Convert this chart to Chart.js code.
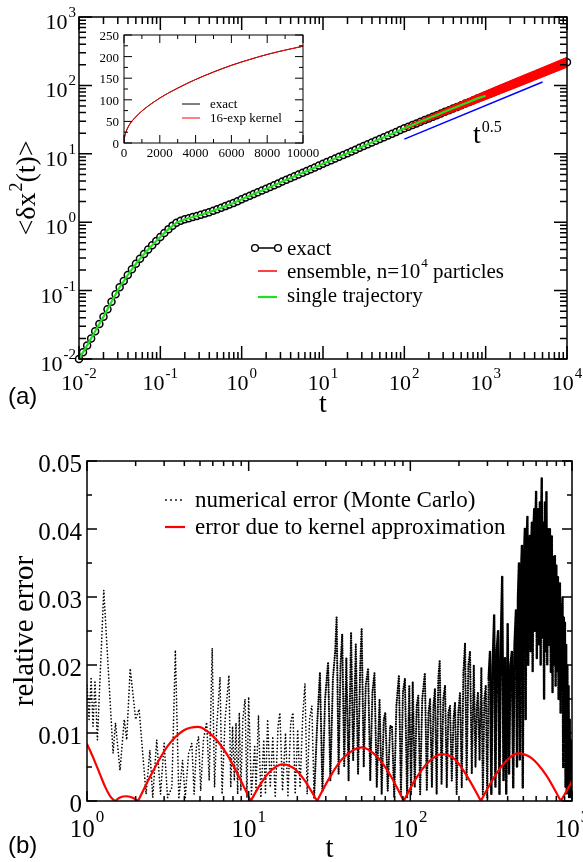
<!DOCTYPE html>
<html>
<head>
<meta charset="utf-8">
<script src="https://cdn.jsdelivr.net/npm/chart.js@4.4.1/dist/chart.umd.min.js"></script>
<style>
  body { margin: 0; background: #fff; }
  #wrap { position: relative; width: 583px; height: 862px; }
  canvas { position: absolute; }
</style>
</head>
<body>
<div id="wrap">
  <canvas id="msdChart" width="583" height="430" style="left:0;top:0"></canvas>
  <canvas id="insetChart" width="240" height="150" style="left:90px;top:20px"></canvas>
  <canvas id="errChart" width="583" height="432" style="left:0;top:430px"></canvas>
</div>
<script>
// ---- panel (a): mean squared displacement ----
const tGrid = [0.01, 0.0112, 0.0126, 0.0141, 0.0158, 0.0178, 0.02, 0.0224, 0.0251, 0.0282, 0.0316, 0.0355, 0.0398, 0.0447, 0.0501, 0.0562, 0.0631, 0.0708, 0.0794, 0.0891,
  0.1, 0.112, 0.126, 0.141, 0.158, 0.178, 0.2, 0.224, 0.251, 0.282, 0.316, 0.355, 0.398, 0.447, 0.501, 0.562, 0.631, 0.708, 0.794, 0.891,
  1, 1.12, 1.26, 1.41, 1.58, 1.78, 2, 2.24, 2.51, 2.82, 3.16, 3.55, 3.98, 4.47, 5.01, 5.62, 6.31, 7.08, 7.94, 8.91,
  10, 11.2, 12.6, 14.1, 15.8, 17.8, 20, 22.4, 25.1, 28.2, 31.6, 35.5, 39.8, 44.7, 50.1, 56.2, 63.1, 70.8, 79.4, 89.1,
  100, 112, 126, 141, 158, 178, 200, 224, 251, 282, 316, 355, 398, 447, 501, 562, 631, 708, 794, 891,
  1000, 1120, 1260, 1410, 1580, 1780, 2000, 2240, 2510, 2820, 3160, 3550, 3980, 4470, 5010, 5620, 6310, 7080, 7940, 8910, 10000];
const msdExact = [0.0100, 0.0126, 0.0158, 0.0200, 0.0255, 0.0325, 0.0416, 0.0532, 0.0689, 0.0881, 0.112, 0.138, 0.169, 0.205, 0.247, 0.293, 0.344, 0.400, 0.461, 0.531,
  0.610, 0.697, 0.792, 0.891, 0.982, 1.052, 1.102, 1.146, 1.189, 1.233, 1.282, 1.340, 1.403, 1.472, 1.549, 1.629, 1.718, 1.811, 1.914, 2.032,
  2.157, 2.290, 2.431, 2.581, 2.740, 2.909, 3.088, 3.278, 3.480, 3.695, 3.922, 4.164, 4.420, 4.693, 4.982, 5.289, 5.615, 5.960, 6.327, 6.717,
  7.131, 7.570, 8.036, 8.531, 9.057, 9.615, 10.21, 10.84, 11.50, 12.21, 12.96, 13.76, 14.61, 15.51, 16.46, 17.48, 18.55, 19.70, 20.91, 22.20,
  23.57, 24.90, 26.32, 27.83, 29.42, 31.10, 32.88, 34.76, 36.75, 38.85, 41.07, 43.42, 45.90, 48.53, 51.30, 54.24, 57.34, 60.62, 64.09, 67.75,
  71.63, 75.72, 80.05, 84.63, 89.47, 94.59, 100.0, 105.7, 111.8, 118.2, 124.9, 132.1, 139.6, 147.6, 156.0, 165.0, 174.4, 184.4, 194.9, 206.1, 217.9];

const singleT = [0.01, 0.0126, 0.0158, 0.02, 0.0251, 0.0316, 0.0398, 0.0501, 0.0631, 0.0794, 0.1, 0.126, 0.158, 0.2, 0.251, 0.316, 0.398, 0.501, 0.631, 0.794,
  1, 1.26, 1.58, 2, 2.51, 3.16, 3.98, 5.01, 6.31, 7.94, 10, 12.6, 15.8, 20, 25.1, 31.6, 39.8, 50.1, 63.1, 79.4, 100, 126, 158, 200, 251, 316, 398, 501, 631, 794, 1000];
const singleMSD = [0.0100, 0.0158, 0.0255, 0.0416, 0.0689, 0.112, 0.169, 0.247, 0.344, 0.461, 0.610, 0.792, 0.982, 1.102, 1.189, 1.282, 1.403, 1.549, 1.718, 1.914,
  2.157, 2.431, 2.740, 3.088, 3.480, 3.922, 4.420, 4.982, 5.615, 6.327, 7.131, 8.036, 9.057, 10.21, 11.50, 12.96, 14.61, 16.46, 18.55, 20.91,
  23.57, 26.4, 29.6, 33.1, 37.0, 41.4, 46.3, 51.6, 57.8, 64.6, 70.5];

// ensemble of 10^4 particles: spread of the noisy curve at long times
const ensT = [100, 158, 251, 398, 631, 1000, 1580, 2510, 3980, 6310, 10000];
const ensHigh = [24.8, 31.5, 40.1, 51.1, 65.2, 82.8, 104.1, 130.9, 164.0, 205.6, 258.0];
const ensLow = [22.4, 27.5, 33.7, 41.2, 50.4, 62.0, 76.9, 95.5, 118.8, 147.9, 184.0];

const slopeT = [100, 5000];
const slopeY = [16.4, 112];

const msdXTicks = [0.01, 0.1, 1, 10, 100, 1000, 10000];
const msdXExp = ['-2', '-1', '0', '1', '2', '3', '4'];
const msdYTicks = [0.01, 0.1, 1, 10, 100, 1000];
const msdYExp = ['-2', '-1', '0', '1', '2', '3'];

// inset (linear axes)
const insetT = [0, 20, 100, 300, 600, 1000, 2000, 3000, 4000, 5000, 6000, 7000, 8000, 9000, 10000];
const insetExact = [0, 10, 24, 42, 58, 74, 104, 127, 147, 164.5, 180, 193, 205, 215, 224];
const insetKernel = [0, 10, 24, 42, 58, 74, 104, 127, 147, 164, 179.5, 193, 205, 215, 224];
const insetXTicks = [0, 2000, 4000, 6000, 8000, 10000];
const insetYTicks = [0, 50, 100, 150, 200, 250];

// ---- panel (b): relative error ----
const kernelT = [1, 1.1, 1.2, 1.3, 1.4, 1.49, 1.6, 1.74, 1.9, 2.07, 2.51, 3.16, 3.98, 4.87, 6.03, 7.41, 8.91, 10.3,
  11.7, 13.5, 16.1, 19.1, 22.4, 26.5, 31.6, 38, 50, 63, 76, 91, 107, 129, 157, 191, 229, 273, 324, 389, 462, 562, 692, 853, 912, 1000];
const kernelErr = [0.0084, 0.0062, 0.0040, 0.0020, 0.0006, 0, 0.0005, 0.0007, 0.0005, 0, 0.0040, 0.0081, 0.0104, 0.0109, 0.0095, 0.0067, 0.0031, 0,
  0.0023, 0.0043, 0.0054, 0.0048, 0.0029, 0, 0.0034, 0.0062, 0.0079, 0.0064, 0.0036, 0, 0.0031, 0.0057, 0.0069, 0.0060, 0.0033, 0,
  0.0032, 0.0058, 0.0070, 0.0063, 0.0038, 0, 0.0012, 0.0029];

// Monte Carlo error, turning points of the noisy trace
const noiseT = [1.00, 1.03, 1.06, 1.09, 1.12, 1.16, 1.27, 1.45, 1.50, 1.60, 1.70, 1.76, 1.85, 2.00, 2.10, 2.32, 2.45, 2.55, 2.70, 2.85, 3.00, 3.15, 3.35, 3.52, 3.70,
  3.90, 4.05, 4.25, 4.45, 4.60, 4.75, 4.90, 5.05, 5.25, 5.50, 5.70, 5.95, 6.15, 6.35, 6.65, 6.85, 7.15, 7.55, 7.75, 7.95, 8.15, 8.35, 8.55, 8.75, 8.95, 9.20, 9.50, 9.75,
  10.0, 10.4, 10.9, 11.1, 11.5, 11.9, 12.4, 12.7, 13.1, 13.6, 14.1, 14.6, 15.2, 15.6, 16.2, 16.9, 17.5, 18.2, 18.8, 19.4, 20.1, 20.8, 21.6, 22.3, 23.0, 23.8, 24.6, 25.4,
  26.5, 27.6, 28.6, 29.7, 31.0, 32.0, 33.2, 34.3, 35.0, 36.0, 37.0, 37.9, 39.0, 40.2, 41.5, 43.0, 44.3, 46.0, 47.5, 49.0, 50.0, 51.5, 53.0, 54.8, 56.5, 58.3, 60.0,
  62.0, 64.5, 66.5, 68.5, 70.0, 72.5, 75.0, 77.0, 79.5, 82.0, 85.0, 87.5, 90.0, 92.6, 95.5,
  98.5, 101, 103.5, 106.5, 109.5, 112, 115, 118.5, 123, 126.5, 129.5, 132.5, 136, 139, 142, 145.5, 149, 152, 156, 160, 164, 168, 172, 176, 180.5, 185, 189, 193.5,
  198, 203, 208, 213, 218, 223, 228.5, 234, 240, 247, 253, 258, 262, 268, 275, 281, 287, 293, 299,
  305, 311, 317, 323, 330, 336, 342, 349, 356, 363, 370, 377, 385, 392, 400, 408, 416, 425, 433, 441, 450, 457, 463, 470, 476, 483, 490, 496, 503, 511, 517, 523,
  530, 536, 542, 549, 555, 560, 565, 571, 577, 584, 590, 595, 600, 606, 612, 619, 626, 633, 640, 645, 650, 657, 664, 672, 680, 687, 695, 703, 711, 720, 730, 740,
  750, 758, 766, 775, 784, 792, 800, 809, 818, 826, 834, 842, 850, 858, 866, 874, 882, 890, 897, 904, 912, 920, 928, 936, 944, 952, 960, 968, 976, 984, 992, 1000];
const noiseErr = [0.0170, 0.0120, 0.0180, 0.0110, 0.0175, 0.0090, 0.0310, 0.0070, 0.0115, 0.0045, 0.0120, 0.0090, 0.0195, 0.0120, 0.0135, 0.0010, 0.0075, 0.0005, 0.0090, 0.0010, 0.0085, 0.0005, 0.0020, 0.0222, 0.0003,
  0.0060, 0.0005, 0.0070, 0.0085, 0.0010, 0.0080, 0.0095, 0.0015, 0.0090, 0.0116, 0.0030, 0.0225, 0.0020, 0.0110, 0.0182, 0.0010, 0.0120, 0.0185, 0.0020, 0.0110, 0.0030, 0.0115, 0.0010, 0.0130, 0.0015, 0.0120, 0.0150, 0.0005,
  0.0153, 0.0010, 0.0080, 0.0015, 0.0126, 0.0005, 0.0090, 0.0010, 0.0120, 0.0020, 0.0095, 0.0005, 0.0110, 0.0130, 0.0015, 0.0100, 0.0008, 0.0115, 0.0130, 0.0010, 0.0105, 0.0020, 0.0125, 0.0173, 0.0010, 0.0120, 0.0140, 0.0005,
  0.0110, 0.0188, 0.0015, 0.0150, 0.0204, 0.0030, 0.0180, 0.0220, 0.0270, 0.0040, 0.0200, 0.0245, 0.0050, 0.0210, 0.0030, 0.0248, 0.0060, 0.0230, 0.0040, 0.0200, 0.0254, 0.0050, 0.0170, 0.0195, 0.0030, 0.0160, 0.0188,
  0.0020, 0.0150, 0.0010, 0.0120, 0.0130, 0.0015, 0.0110, 0.0110, 0.0005, 0.0140, 0.0185, 0.0010, 0.0160, 0.0180, 0.0005,
  0.0170, 0.0010, 0.0175, 0.0020, 0.0140, 0.0155, 0.0010, 0.0150, 0.0188, 0.0015, 0.0130, 0.0150, 0.0020, 0.0140, 0.0165, 0.0010, 0.0180, 0.0207, 0.0025, 0.0150, 0.0170, 0.0020, 0.0130, 0.0140, 0.0030, 0.0120, 0.0145, 0.0010,
  0.0130, 0.0160, 0.0020, 0.0190, 0.0232, 0.0030, 0.0200, 0.0220, 0.0040, 0.0200, 0.0050, 0.0140, 0.0160, 0.0060, 0.0196, 0.0010, 0.0150, 0.0170, 0.0005,
  0.0180, 0.0219, 0.0010, 0.0200, 0.0273, 0.0020, 0.0220, 0.0250, 0.0010, 0.0240, 0.0330, 0.0030, 0.0210, 0.0010, 0.0260, 0.0040, 0.0200, 0.0220, 0.0020, 0.0230, 0.0280, 0.0050, 0.0300, 0.0350, 0.0060, 0.0330, 0.0376, 0.0020, 0.0350, 0.0400, 0.0120, 0.0380,
  0.0418, 0.0200, 0.0370, 0.0390, 0.0220, 0.0380, 0.0410, 0.0190, 0.0400, 0.0430, 0.0250, 0.0420, 0.0455, 0.0210, 0.0400, 0.0430, 0.0230, 0.0440, 0.0200, 0.0420, 0.0475, 0.0240, 0.0410, 0.0150, 0.0440, 0.0220, 0.0455, 0.0200, 0.0400, 0.0230, 0.0400, 0.0190,
  0.0390, 0.0160, 0.0360, 0.0200, 0.0360, 0.0170, 0.0347, 0.0190, 0.0330, 0.0150, 0.0310, 0.0320, 0.0130, 0.0290, 0.0180, 0.0300, 0.0050, 0.0270, 0.0120, 0.0263, 0.0020, 0.0230, 0.0010, 0.0200, 0.0020, 0.0170, 0.0005, 0.0120, 0.0010, 0.0090, 0.0005, 0.0060];

const errXTicks = [1, 10, 100, 1000];
const errXExp = ['0', '1', '2', '3'];
const errYTicks = [0, 0.01, 0.02, 0.03, 0.04, 0.05];
const errYLabels = ['0', '0.01', '0.02', '0.03', '0.04', '0.05'];

const SERIF = '"Liberation Serif", "Times New Roman", serif';
const SANS = '"Liberation Sans", Arial, sans-serif';

const pairs = (xs, ys) => xs.map((x, i) => ({ x, y: ys[i] }));

// each zero of the kernel error starts a new arch, so the line is broken there
const arches = (xs, ys) => {
  const out = [];
  xs.forEach((x, i) => {
    out.push({ x, y: ys[i] });
    if (ys[i] === 0 && i > 0 && i < xs.length - 1) {
      out.push({ x, y: null });
      out.push({ x, y: 0 });
    }
  });
  return out;
};

const logMinor = majors => {
  const out = [];
  for (let i = 0; i < majors.length - 1; i++)
    for (let m = 2; m <= 9; m++) out.push(majors[i] * m);
  return out;
};

// text with superscript pieces
function richText(ctx, parts, x, y, size, align, supSize, raise) {
  supSize = supSize || Math.round(size * 0.65);
  raise = raise || size * 0.55;
  const widths = parts.map(p => {
    ctx.font = (p.sup ? supSize : size) + 'px ' + SERIF;
    return ctx.measureText(p.t).width + (p.sup ? 1 : 0);
  });
  const w = widths.reduce((s, v) => s + v, 0);
  let cx = align === 'right' ? x - w : align === 'center' ? x - w / 2 : x;
  ctx.textAlign = 'left';
  ctx.textBaseline = 'alphabetic';
  parts.forEach((p, i) => {
    ctx.font = (p.sup ? supSize : size) + 'px ' + SERIF;
    ctx.fillText(p.t, cx + (p.sup ? 1 : 0), p.sup ? y - raise : y);
    cx += widths[i];
  });
}

function drawFrame(chart, o) {
  const { ctx, chartArea: a } = chart;
  const sx = chart.scales.x, sy = chart.scales.y;
  ctx.save();
  ctx.strokeStyle = '#000';
  ctx.lineWidth = o.lineWidth;
  ctx.beginPath();
  const xt = (v, len) => {
    const p = sx.getPixelForValue(v);
    ctx.moveTo(p, a.bottom); ctx.lineTo(p, a.bottom - len);
    ctx.moveTo(p, a.top); ctx.lineTo(p, a.top + len);
  };
  const yt = (v, len) => {
    const p = sy.getPixelForValue(v);
    ctx.moveTo(a.left, p); ctx.lineTo(a.left + len, p);
    ctx.moveTo(a.right, p); ctx.lineTo(a.right - len, p);
  };
  o.xMajor.forEach(v => xt(v, o.major));
  o.xMinor.forEach(v => xt(v, o.minor));
  o.yMajor.forEach(v => yt(v, o.major));
  o.yMinor.forEach(v => yt(v, o.minor));
  ctx.stroke();
  ctx.strokeRect(a.left, a.top, a.right - a.left, a.bottom - a.top);
  ctx.restore();
}

function sampleLine(ctx, x1, x2, y, color, width, dash) {
  ctx.save();
  ctx.strokeStyle = color;
  ctx.lineWidth = width;
  if (dash) { ctx.setLineDash(dash); ctx.lineCap = 'round'; }
  ctx.beginPath();
  ctx.moveTo(x1, y); ctx.lineTo(x2, y);
  ctx.stroke();
  ctx.restore();
}

function circle(ctx, x, y) {
  ctx.beginPath();
  ctx.arc(x, y, 3.4, 0, Math.PI * 2);
  ctx.fillStyle = '#fff';
  ctx.fill();
  ctx.lineWidth = 1.4;
  ctx.strokeStyle = '#000';
  ctx.stroke();
}

const baseOptions = {
  responsive: false,
  animation: false,
  events: [],
  plugins: { legend: { display: false }, tooltip: { enabled: false } }
};

// ---------- panel (a) ----------
const msdDecor = {
  id: 'msdDecor',
  afterDraw(chart) {
    const { ctx, chartArea: a } = chart;
    const sx = chart.scales.x, sy = chart.scales.y;
    drawFrame(chart, {
      lineWidth: 1.5, major: 13, minor: 7,
      xMajor: msdXTicks, xMinor: logMinor(msdXTicks),
      yMajor: msdYTicks, yMinor: logMinor(msdYTicks)
    });
    ctx.save();
    ctx.fillStyle = '#000';
    msdXTicks.forEach((v, i) => richText(ctx, [{ t: '10' }, { t: msdXExp[i], sup: true }], sx.getPixelForValue(v), a.bottom + 31, 22, 'center', 15, 12));
    msdYTicks.forEach((v, i) => richText(ctx, [{ t: '10' }, { t: msdYExp[i], sup: true }], a.left - 3, sy.getPixelForValue(v) + 12, 22, 'right', 15, 12));

    ctx.font = '28px ' + SERIF;
    ctx.textAlign = 'center';
    ctx.fillText('t', (a.left + a.right) / 2, 412);

    ctx.save();
    ctx.translate(35, 188);
    ctx.rotate(-Math.PI / 2);
    richText(ctx, [{ t: '<δx' }, { t: '2', sup: true }, { t: '(t)>' }], 0, 0, 28, 'center', 18, 13);
    ctx.restore();

    // legend
    sampleLine(ctx, 255, 278, 248, '#000', 1.5);
    circle(ctx, 255, 248);
    circle(ctx, 278, 248);
    sampleLine(ctx, 258, 277, 271, '#ff0000', 1.5);
    sampleLine(ctx, 258, 277, 297, '#1fe01f', 2.2);
    ctx.fillStyle = '#000';
    richText(ctx, [{ t: 'exact' }], 287, 255, 21);
    richText(ctx, [{ t: 'ensemble, n=10' }, { t: '4', sup: true }, { t: ' particles' }], 287, 278, 21, 'left', 13, 11);
    richText(ctx, [{ t: 'single trajectory' }], 287, 302, 21);

    richText(ctx, [{ t: 't' }, { t: '0.5', sup: true }], 473, 143, 28, 'left', 16, 11);

    ctx.font = '24px ' + SANS;
    ctx.textAlign = 'left';
    ctx.fillText('(a)', 8, 404);
    ctx.restore();
  }
};

new Chart(document.getElementById('msdChart'), {
  type: 'line',
  data: {
    datasets: [
      { label: 'single trajectory', data: pairs(singleT, singleMSD), borderColor: '#1fe01f', borderWidth: 2.2, pointRadius: 0 },
      { label: 'ensemble, n=10^4 particles', data: pairs(ensT, ensHigh), borderColor: '#ff0000', backgroundColor: '#ff0000', borderWidth: 1, pointRadius: 0, fill: '+1' },
      { label: 'ensemble low', data: pairs(ensT, ensLow), borderColor: '#ff0000', borderWidth: 1, pointRadius: 0 },
      { label: 'exact', data: pairs(tGrid, msdExact), borderColor: '#000', borderWidth: 2, pointRadius: 3.5, pointBorderWidth: 1.5,
        pointBackgroundColor: '#fff', pointBorderColor: '#000', clip: false },
      { label: 't^0.5', data: pairs(slopeT, slopeY), borderColor: '#0000ff', borderWidth: 1.5, pointRadius: 0 }
    ]
  },
  options: {
    ...baseOptions,
    layout: { padding: { left: 79, top: 17, right: 16, bottom: 71 } },
    scales: {
      x: { type: 'logarithmic', min: 0.01, max: 10000, display: false },
      y: { type: 'logarithmic', min: 0.01, max: 1000, display: false }
    }
  },
  plugins: [msdDecor]
});

// ---------- inset ----------
const insetDecor = {
  id: 'insetDecor',
  beforeDraw(chart) {
    const { ctx, chartArea: a } = chart;
    ctx.save();
    ctx.fillStyle = '#fff';
    ctx.fillRect(a.left, a.top, a.right - a.left, a.bottom - a.top);
    ctx.restore();
  },
  afterDraw(chart) {
    const { ctx, chartArea: a } = chart;
    const sx = chart.scales.x, sy = chart.scales.y;
    drawFrame(chart, {
      lineWidth: 1, major: 8, minor: 4,
      xMajor: insetXTicks, xMinor: [1000, 3000, 5000, 7000, 9000],
      yMajor: insetYTicks, yMinor: [25, 75, 125, 175, 225]
    });
    ctx.save();
    ctx.fillStyle = '#000';
    ctx.font = '13px ' + SERIF;
    ctx.textBaseline = 'alphabetic';
    ctx.textAlign = 'center';
    insetXTicks.forEach(v => ctx.fillText(String(v), sx.getPixelForValue(v), a.bottom + 14));
    ctx.textAlign = 'right';
    insetYTicks.forEach(v => ctx.fillText(String(v), a.left - 5, sy.getPixelForValue(v) + 5));
    sampleLine(ctx, 92, 110, 84, '#000', 1);
    sampleLine(ctx, 92, 110, 98, '#ff0000', 1);
    ctx.textAlign = 'left';
    ctx.fillText('exact', 120, 88);
    ctx.fillText('16-exp kernel', 120, 102);
    ctx.restore();
  }
};

new Chart(document.getElementById('insetChart'), {
  type: 'line',
  data: {
    datasets: [
      { label: '16-exp kernel', data: pairs(insetT, insetKernel), borderColor: '#ff0000', borderWidth: 1, pointRadius: 0, cubicInterpolationMode: 'monotone' },
      { label: 'exact', data: pairs(insetT, insetExact), borderColor: '#000', borderWidth: 1, pointRadius: 0, cubicInterpolationMode: 'monotone' }
    ]
  },
  options: {
    ...baseOptions,
    layout: { padding: { left: 34, top: 15, right: 27, bottom: 27 } },
    scales: {
      x: { type: 'linear', min: 0, max: 10000, display: false },
      y: { type: 'linear', min: 0, max: 250, display: false }
    }
  },
  plugins: [insetDecor]
});

// ---------- panel (b) ----------
const errDecor = {
  id: 'errDecor',
  afterDraw(chart) {
    const { ctx, chartArea: a } = chart;
    const sx = chart.scales.x, sy = chart.scales.y;
    drawFrame(chart, {
      lineWidth: 1.5, major: 10, minor: 5,
      xMajor: errXTicks, xMinor: logMinor(errXTicks),
      yMajor: errYTicks, yMinor: [0.005, 0.015, 0.025, 0.035, 0.045]
    });
    ctx.save();
    ctx.fillStyle = '#000';
    errXTicks.forEach((v, i) => richText(ctx, [{ t: '10' }, { t: errXExp[i], sup: true }], sx.getPixelForValue(v), a.bottom + 36, 25, 'center', 17, 15));
    ctx.font = '25px ' + SERIF;
    ctx.textAlign = 'right';
    errYTicks.forEach((v, i) => ctx.fillText(errYLabels[i], a.left - 5, sy.getPixelForValue(v) + 11));

    ctx.font = '29px ' + SERIF;
    ctx.textAlign = 'center';
    ctx.fillText('t', (a.left + a.right) / 2, 427);
    ctx.save();
    ctx.translate(33, 201);
    ctx.rotate(-Math.PI / 2);
    ctx.fillText('relative error', 0, 0);
    ctx.restore();

    sampleLine(ctx, 166, 182, 70, '#000', 1.8, [0, 5]);
    sampleLine(ctx, 165, 185, 97, '#ff0000', 2.2);
    ctx.textAlign = 'left';
    ctx.font = '23px ' + SERIF;
    ctx.fillText('numerical error (Monte Carlo)', 195, 77);
    ctx.fillText('error due to kernel approximation', 195, 104);

    ctx.font = '24px ' + SANS;
    ctx.fillText('(b)', 8, 423);
    ctx.restore();
  }
};

// the trace is denser (heavier dots) where the data pile up at long times
const dotWidth = c => (c.p0.parsed.x < 25 ? 1.7 : c.p0.parsed.x < 300 ? 2.2 : 2.6);
const dotDash = c => (c.p0.parsed.x < 25 ? [0, 3.4] : c.p0.parsed.x < 300 ? [0, 2.4] : [0, 1.9]);

new Chart(document.getElementById('errChart'), {
  type: 'line',
  data: {
    datasets: [
      { label: 'error due to kernel approximation', data: arches(kernelT, kernelErr), borderColor: '#ff0000', borderWidth: 2.2,
        pointRadius: 0, cubicInterpolationMode: 'monotone', spanGaps: false },
      { label: 'numerical error (Monte Carlo)', data: pairs(noiseT, noiseErr), borderColor: '#000', borderWidth: 1.7,
        borderDash: [0, 3.2], borderCapStyle: 'round', pointRadius: 0,
        segment: { borderWidth: dotWidth, borderDash: dotDash } }
    ]
  },
  options: {
    ...baseOptions,
    layout: { padding: { left: 87, top: 31, right: 11, bottom: 61 } },
    scales: {
      x: { type: 'logarithmic', min: 1, max: 1000, display: false },
      y: { type: 'linear', min: 0, max: 0.05, display: false }
    }
  },
  plugins: [errDecor]
});
</script>
</body>
</html>
